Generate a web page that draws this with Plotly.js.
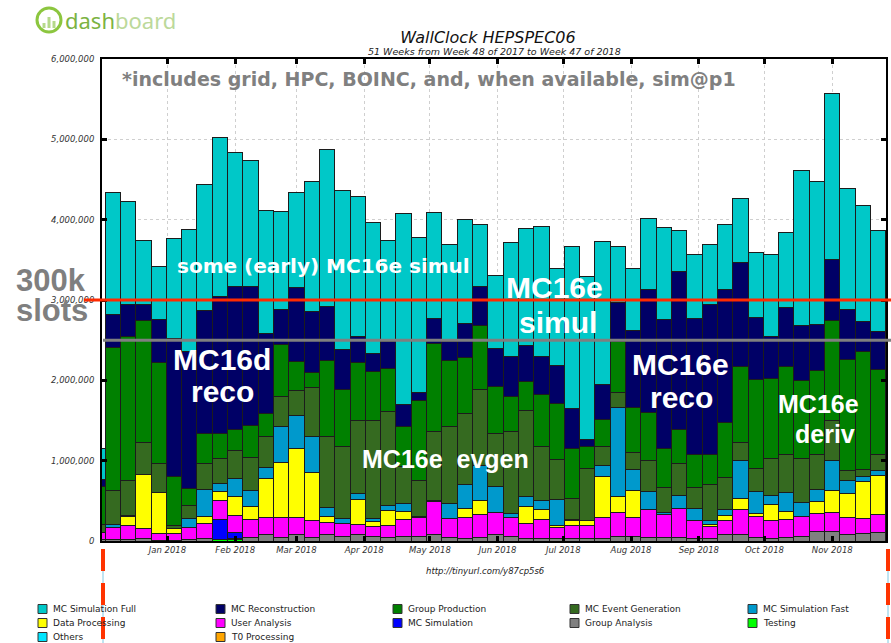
<!DOCTYPE html>
<html>
<head>
<meta charset="utf-8">
<script src="https://cdn.plot.ly/plotly-3.0.1.min.js"></script>
<style>
html,body{margin:0;padding:0;background:#fff;}
#chart{width:891px;height:643px;}
</style>
</head>
<body>
<div id="chart"></div>
<script>
// ---- DATA (values in thousands of HS06) ----
const weeks = ["2017-11-30","2017-12-07","2017-12-14","2017-12-21","2017-12-28","2018-01-04","2018-01-11","2018-01-18","2018-01-25",
"2018-02-01","2018-02-08","2018-02-15","2018-02-22","2018-03-01","2018-03-08","2018-03-15","2018-03-22","2018-03-29",
"2018-04-05","2018-04-12","2018-04-19","2018-04-26","2018-05-03","2018-05-10","2018-05-17","2018-05-24","2018-05-31",
"2018-06-07","2018-06-14","2018-06-21","2018-06-28","2018-07-05","2018-07-12","2018-07-19","2018-07-26","2018-08-02",
"2018-08-09","2018-08-16","2018-08-23","2018-08-30","2018-09-06","2018-09-13","2018-09-20","2018-09-27","2018-10-04",
"2018-10-11","2018-10-18","2018-10-25","2018-11-01","2018-11-08","2018-11-15","2018-11-22"];

const mcSimFull = [390,1513,1281,796,651,1244,1526,1571,1974,1671,1567,1534,1215,1182,1625,1949,1982,1750,1638,1256,2370,1928,1326,1211,1294,767,912,1418,1451,1617,1202,2011,2023,1779,697,775,883,1144,518,796,742,813,804,808,1012,933,1936,1774,2065,1505,1451,1265];
const mcReconstruction = [80,415,406,207,539,1721,1708,1526,1708,1779,1741,995,435,925,759,672,498,323,228,340,282,95,311,236,427,493,477,489,456,464,477,498,91,435,485,958,1530,1604,1961,1687,1866,1658,1285,767,527,730,684,580,763,626,373,468];
const groupProduction = [480,1775,1791,1513,1256,601,207,373,311,261,390,290,643,361,187,954,713,713,601,531,498,995,1099,821,692,792,580,444,352,647,697,622,270,336,634,556,593,485,431,415,373,680,949,1107,995,1095,966,1037,1244,1385,1464,1053];
const mcEventGen = [100,427,427,398,361,41,158,319,311,352,419,381,381,311,601,883,891,912,1223,1169,456,448,850,954,883,941,663,1016,1078,680,498,261,643,236,187,211,386,315,394,261,456,398,228,290,464,481,551,439,498,124,91,207];
const mcSimFast = [0,37,12,0,0,0,112,344,104,228,195,145,444,406,456,112,62,70,41,70,104,17,20,187,299,444,323,50,124,108,319,17,0,145,1107,257,228,16,158,145,41,79,468,270,104,236,166,153,373,158,54,54];
const dataProcessing = [0,0,124,672,510,62,0,83,104,228,166,481,688,862,589,70,0,315,62,178,95,0,0,0,112,178,0,0,207,124,29,54,62,506,199,340,0,0,0,0,33,62,145,33,199,104,0,145,274,299,464,489];
const userAnalysis = [80,145,166,124,83,83,150,187,240,220,216,216,249,216,220,149,166,120,116,158,216,240,402,236,261,278,265,232,187,236,137,166,166,261,290,232,348,290,361,228,145,178,299,265,228,216,257,228,228,207,187,224];
const mcSimulation = [0,0,0,0,0,0,0,0,249,70,0,0,0,0,0,0,0,0,0,0,0,0,0,0,0,0,0,0,0,0,0,0,0,0,0,0,0,0,0,0,0,0,0,0,0,0,0,0,0,0,0,0];
const groupAnalysis = [20,21,21,33,12,12,21,33,0,20,46,75,41,75,41,83,54,87,62,41,54,54,87,46,33,46,87,62,33,33,33,33,33,33,62,62,46,46,46,33,33,75,87,46,33,46,54,116,124,87,95,108];
const testing = [0,0,0,0,0,0,0,0,21,13,0,0,0,0,0,0,0,0,0,0,0,0,0,0,0,0,0,0,0,0,0,0,0,0,0,0,0,0,0,0,0,0,0,0,0,0,0,0,0,0,0,0];
const others = [0,0,0,0,0,0,0,0,0,0,0,0,0,0,0,0,0,0,0,0,0,0,0,0,0,0,0,0,0,0,0,0,0,0,0,0,0,0,0,0,0,0,0,0,0,0,0,0,0,0,0,0];
const t0Processing = [0,0,0,0,0,0,0,0,0,0,0,0,0,0,0,0,0,0,0,0,0,0,0,0,0,0,0,0,0,0,0,0,0,0,0,0,0,0,0,0,0,0,0,0,0,0,0,0,0,0,0,0];

const monthTicks = ["2018-01-01","2018-02-01","2018-03-01","2018-04-01","2018-05-01","2018-06-01","2018-07-01","2018-08-01","2018-09-01","2018-10-01","2018-11-01"];
const monthLabels = ["Jan 2018","Feb 2018","Mar 2018","Apr 2018","May 2018","Jun 2018","Jul 2018","Aug 2018","Sep 2018","Oct 2018","Nov 2018"];

// series: bottom of stack first
const series = [
  {name:"T0 Processing", data:t0Processing, color:"#FFA500"},
  {name:"Others", data:others, color:"#00E5FF"},
  {name:"Testing", data:testing, color:"#00FF00"},
  {name:"Group Analysis", data:groupAnalysis, color:"#808080"},
  {name:"MC Simulation", data:mcSimulation, color:"#0000FF"},
  {name:"User Analysis", data:userAnalysis, color:"#FF00FF"},
  {name:"Data Processing", data:dataProcessing, color:"#FFFF00"},
  {name:"MC Simulation Fast", data:mcSimFast, color:"#0099CC"},
  {name:"MC Event Generation", data:mcEventGen, color:"#356A20"},
  {name:"Group Production", data:groupProduction, color:"#008000"},
  {name:"MC Reconstruction", data:mcReconstruction, color:"#000066"},
  {name:"MC Simulation Full", data:mcSimFull, color:"#00C8C8"}
];
const legendOrder = ["MC Simulation Full","MC Reconstruction","Group Production","MC Event Generation","MC Simulation Fast",
  "Data Processing","User Analysis","MC Simulation","Group Analysis","Testing","Others","T0 Processing"];

// ---- layout helpers (pixel -> paper) ----
const L = 102, R = 886, T = 59, B = 541;
const PX = x => (x - L) / (R - L);
const PY = y => (B - y) / (B - T);

const traces = series.map(s => ({
  type: "bar",
  name: s.name,
  x: weeks,
  y: s.data.map(v => v ? v * 1000 : null),
  marker: {color: s.color, line: {color: "#1c1c1c", width: 1}},
  showlegend: false,
  hoverinfo: "skip"
}));

const axisFont = {family: "DejaVu Sans", size: 8.5, color: "#333", style: "italic"};
const shapes = [];
const annotations = [];

// reference lines
shapes.push({type:"line", xref:"paper", yref:"y", x0:PX(84), x1:PX(891), y0:3e6, y1:3e6, line:{color:"#FF2A00", width:3}});
shapes.push({type:"line", xref:"paper", yref:"y", x0:PX(103), x1:PX(891), y0:2.5e6, y1:2.5e6, line:{color:"#7F7F7F", width:3}});
// bottom dashed markers
[103, 888].forEach(xp => {
  shapes.push({type:"line", xref:"paper", yref:"paper", x0:PX(xp), x1:PX(xp), y0:PY(549), y1:PY(643), line:{color:"#7EC8E3", width:1}});
  shapes.push({type:"line", xref:"paper", yref:"paper", x0:PX(xp), x1:PX(xp), y0:PY(549), y1:PY(643), line:{color:"#FF3300", width:4, dash:"22px,12px"}});
});
// logo icon
shapes.push({type:"circle", xref:"paper", yref:"paper", x0:PX(37), x1:PX(61), y0:PY(32), y1:PY(8), line:{color:"#8CC63F", width:3}});
[[44,23],[49,17],[54,21]].forEach(([bx, by]) => {
  shapes.push({type:"rect", xref:"paper", yref:"paper", x0:PX(bx-1.5), x1:PX(bx+1.5), y0:PY(28), y1:PY(by), line:{width:0}, fillcolor:"#B5D98A"});
});
annotations.push({xref:"paper", yref:"paper", x:PX(63), y:PY(20), xanchor:"left", yanchor:"middle", showarrow:false,
  text:'<span style="color:#7CB342">dash</span><span style="color:#BCD99A">board</span>',
  font:{family:"Noto Sans", size:22}});

// subtitle
annotations.push({xref:"paper", yref:"paper", x:PX(494), y:PY(51), xanchor:"center", yanchor:"middle", showarrow:false,
  text:"51 Weeks from Week 48 of 2017 to Week 47 of 2018", font:{family:"DejaVu Sans", size:9.5, color:"#222", style:"italic"}});
// url
annotations.push({xref:"paper", yref:"paper", x:PX(485), y:PY(571), xanchor:"center", yanchor:"middle", showarrow:false,
  text:"http://tinyurl.com/y87cp5s6", font:{family:"DejaVu Sans", size:8.5, color:"#222", style:"italic"}});

// overlay notes
const big = (txt, x, y, size, color, fam) => annotations.push({xref:"paper", yref:"paper", x:PX(x), y:PY(y),
  xanchor:"center", yanchor:"middle", showarrow:false, text:"<b>"+txt+"</b>",
  font:{family: fam || "Liberation Sans, Arial", size:size, color:color}});
annotations.push({xref:"paper", yref:"paper", x:PX(120), y:PY(79), xanchor:"left", yanchor:"middle", showarrow:false,
  text:"<b>*includes grid, HPC, BOINC, and, when available, sim@p1</b>", font:{family:"DejaVu Sans", size:19, color:"#808080"}});
big("some (early) MC16e simul", 323, 266, 20, "#FFFFFF", "DejaVu Sans");
big("300k", 51, 280, 31, "#7F7F7F");
big("slots", 52, 310, 31, "#7F7F7F");
big("MC16e", 554, 287, 30, "#FFFFFF");
big("simul", 558, 322, 30, "#FFFFFF");
big("MC16d", 222, 359, 30, "#FFFFFF");
big("reco", 222, 391, 30, "#FFFFFF");
big("MC16e", 680, 364, 30, "#FFFFFF");
big("reco", 681, 397, 30, "#FFFFFF");
big("MC16e", 818, 404, 25, "#FFFFFF");
big("deriv", 825, 434, 25, "#FFFFFF");
big("MC16e&nbsp;&nbsp;evgen", 445, 459, 25, "#FFFFFF");

// legend grid
const colX = [38, 216, 393, 570, 748];
const rowY = [609, 623, 637];
legendOrder.forEach((nm, i) => {
  const s = series.find(q => q.name === nm);
  const cx = colX[i % 5], cy = rowY[Math.floor(i / 5)];
  shapes.push({type:"rect", xref:"paper", yref:"paper", x0:PX(cx), x1:PX(cx+9), y0:PY(cy+4.5), y1:PY(cy-4.5),
    fillcolor:s.color, line:{color:"#333", width:1}});
  annotations.push({xref:"paper", yref:"paper", x:PX(cx+13), y:PY(cy), xanchor:"left", yanchor:"middle", showarrow:false,
    text:nm, font:{family:"DejaVu Sans", size:9, color:"#222"}});
});

const layout = {
  width: 891, height: 643,
  margin: {l: L, r: 891 - R, t: T, b: 643 - B, pad: 0},
  paper_bgcolor: "#fff", plot_bgcolor: "#fff",
  barmode: "stack", bargap: 0,
  showlegend: false,
  title: {text: "WallClock HEPSPEC06", xref: "container", yref: "container", x: 488/891, y: 1 - 37/643,
    xanchor: "center", yanchor: "middle", font: {family: "DejaVu Sans", size: 16, color: "#111", style: "italic"}},
  xaxis: {
    type: "date", range: ["2017-12-02 02:00", "2018-11-25 14:00"],
    tickmode: "array", tickvals: monthTicks, ticktext: monthLabels,
    ticks: "inside", ticklen: 5, tickwidth: 3, tickcolor: "#000",
    showline: true, linecolor: "#000", linewidth: 2, mirror: "ticks",
    showgrid: true, gridcolor: "#CFCFCF", griddash: "dot", gridwidth: 1,
    zeroline: false, tickfont: axisFont, fixedrange: true
  },
  yaxis: {
    range: [0, 6e6], tickmode: "linear", tick0: 0, dtick: 1e6, tickformat: ",d",
    ticks: "inside", ticklen: 5, tickwidth: 3, tickcolor: "#000",
    showline: true, linecolor: "#000", linewidth: 2, mirror: "ticks",
    showgrid: true, gridcolor: "#CFCFCF", griddash: "dot", gridwidth: 1,
    zeroline: false, tickfont: axisFont, ticklabelstandoff: 4, fixedrange: true
  },
  shapes: shapes,
  annotations: annotations
};

Plotly.newPlot("chart", traces, layout, {staticPlot: true, displayModeBar: false});
</script>
</body>
</html>
